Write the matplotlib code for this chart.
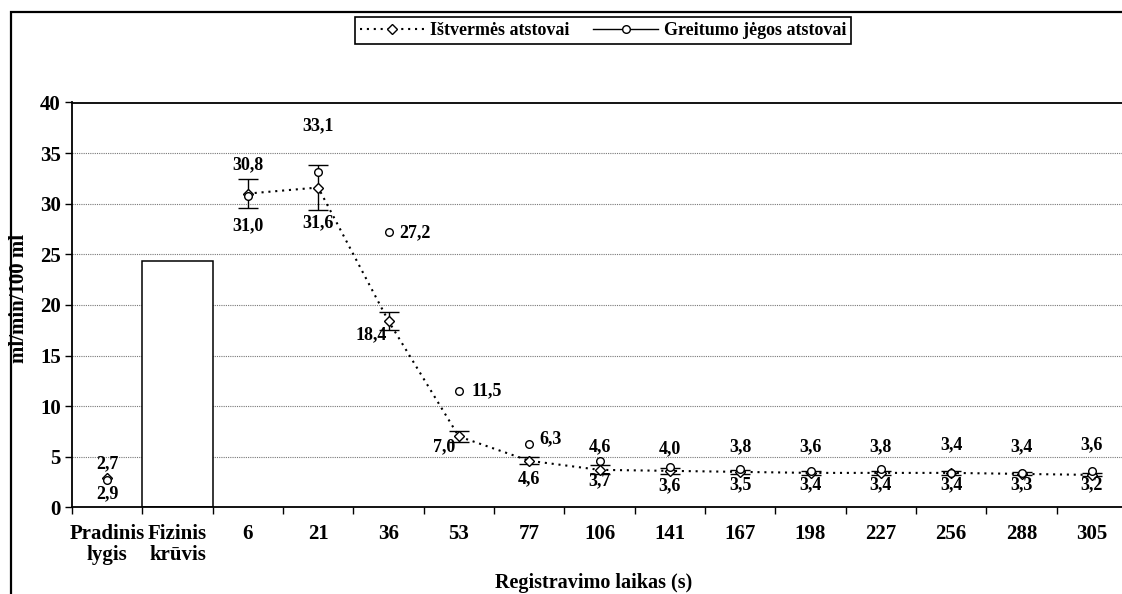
import matplotlib.pyplot as plt
import numpy as np
from matplotlib.lines import Line2D
from matplotlib.patches import Rectangle

plt.rcParams['font.family'] = ['Liberation Serif', 'DejaVu Serif']
plt.rcParams['font.weight'] = 'bold'

# registration times (first two are baseline and the load itself)
categories = ['Pradinis\nlygis', 'Fizinis\nkrūvis', '6', '21', '36', '53', '77',
              '106', '141', '167', '198', '227', '256', '288', '305']
load_level = 24.3
istvermes = [2.9, np.nan, 31.0, 31.6, 18.4, 7.0, 4.6, 3.7, 3.6, 3.5, 3.4, 3.4, 3.4, 3.3, 3.2]
istvermes_err = [np.nan, np.nan, 1.45, 2.25, 0.85, 0.5, 0.35, 0.45, 0.3, 0.2, 0.2, 0.2, 0.2, 0.15, 0.15]
greitumo = [2.7, np.nan, 30.8, 33.1, 27.2, 11.5, 6.3, 4.6, 4.0, 3.8, 3.6, 3.8, 3.4, 3.4, 3.6]

# label placement, pixel offsets from the marker: (dx, dy, ha)
top_pos = [(0, 16, 'center'), None, (0, 31, 'center'), (0, 47, 'center'),
           (11, -1, 'left'), (13, 0, 'left'), (10, 5, 'left'), (0, 14, 'center'),
           (0, 18, 'center'), (0, 22, 'center'), (0, 24, 'center'), (0, 22, 'center'),
           (0, 28, 'center'), (0, 26, 'center'), (0, 26, 'center')]
bottom_pos = [(0, -16, 'center'), None, (0, -32, 'center'), (0, -35, 'center'),
              (-2, -14, 'right'), (-4, -10, 'right'), (0, -18, 'center'), (0, -11, 'center'),
              (0, -15, 'center'), (0, -13, 'center'), (0, -12, 'center'), (0, -12, 'center'),
              (0, -12, 'center'), (0, -11, 'center'), (0, -10, 'center')]

fig = plt.figure(figsize=(11.22, 5.94), dpi=100)
ax = fig.add_axes([72 / 1122, 1 - 507.3 / 594, 1055 / 1122, 404.8 / 594])
px = 72 / fig.dpi
x = np.arange(len(categories))

# outer frame, runs off the right and bottom edge
fig.patches.append(Rectangle((11 / 1122, -0.5), 2.0, 0.5 + 1 - 12 / 594,
                             transform=fig.transFigure, fill=False,
                             edgecolor='black', linewidth=1.6, zorder=0))

ax.bar(1, load_level, width=1.0, color='white', edgecolor='black', linewidth=1.1, zorder=2)

# endurance athletes: dotted line from 6 s on
ax.plot(x[2:], istvermes[2:], color='black', linewidth=1.5, linestyle=(0, (1, 2.3)), zorder=3)
ax.errorbar(x, istvermes, yerr=istvermes_err, fmt='none', ecolor='black',
            elinewidth=1.0, capsize=7, capthick=1.0, zorder=4)
ax.plot(x, istvermes, linestyle='none', marker='D', markersize=5,
        markerfacecolor='white', markeredgecolor='black', markeredgewidth=1.0, zorder=5)
# speed-strength athletes: markers only
ax.plot(x, greitumo, linestyle='none', marker='o', markersize=5.5,
        markerfacecolor='white', markeredgecolor='black', markeredgewidth=1.0, zorder=6)

def fmt(v):
    return f'{v:.1f}'.replace('.', ',')

for i in range(len(categories)):
    if top_pos[i] is not None:
        dx, dy, ha = top_pos[i]
        ax.annotate(fmt(greitumo[i]), (x[i], greitumo[i]), xytext=(dx * px, dy * px),
                    textcoords='offset points', ha=ha, va='center', fontsize=13,
                    fontweight='bold', zorder=7)
    if bottom_pos[i] is not None:
        dx, dy, ha = bottom_pos[i]
        ax.annotate(fmt(istvermes[i]), (x[i], istvermes[i]), xytext=(dx * px, dy * px),
                    textcoords='offset points', ha=ha, va='center', fontsize=13,
                    fontweight='bold', zorder=7)

ax.set_xlim(-0.5, len(categories) - 0.5)
ax.set_ylim(0, 40)
ax.set_yticks(np.arange(0, 41, 5))
ax.yaxis.grid(True, color='#777777', linewidth=0.8, linestyle=(0, (1, 1)))
ax.set_axisbelow(True)

ax.set_xticks(x)
ax.set_xticklabels(categories, linespacing=1.1)
ax.set_xticks(np.arange(-0.5, len(categories)), minor=True)
ax.tick_params(axis='x', which='major', length=0, pad=12, labelsize=15)
ax.tick_params(axis='x', which='minor', length=5, width=1, direction='out')
ax.tick_params(axis='y', length=5, width=1, direction='out', pad=3, labelsize=15)

for side in ['left', 'top', 'bottom']:
    ax.spines[side].set_linewidth(1.3)
ax.spines['right'].set_visible(False)

ax.set_xlabel('Registravimo laikas (s)', fontsize=14.5, fontweight='bold')
ax.xaxis.set_label_coords((594 - 72) / 1055, (507.3 - 573) / 404.8)
ax.set_ylabel('ml/min/100 ml', fontsize=15, fontweight='bold')
ax.yaxis.set_label_coords((29 - 72) / 1055, (507.3 - 298) / 404.8)

handles = [
    Line2D([], [], color='black', linewidth=1.5, linestyle=(0, (1, 2.3)), marker='D',
           markersize=5, markerfacecolor='white', markeredgecolor='black'),
    Line2D([], [], color='black', linewidth=1.0, linestyle='-', marker='o',
           markersize=5.5, markerfacecolor='white', markeredgecolor='black'),
]
leg = fig.legend(handles, ['Ištvermės atstovai', 'Greitumo jėgos atstovai'],
                 loc='center', bbox_to_anchor=(603 / 1122, 1 - 30.5 / 594), ncol=2,
                 frameon=True, fancybox=False, framealpha=1, edgecolor='black',
                 handlelength=3.6, handletextpad=0.3, columnspacing=1.3,
                 borderpad=0.25, prop={'size': 13, 'weight': 'bold'})
leg.get_frame().set_linewidth(1.2)

fig.savefig('out.png', dpi=100)
